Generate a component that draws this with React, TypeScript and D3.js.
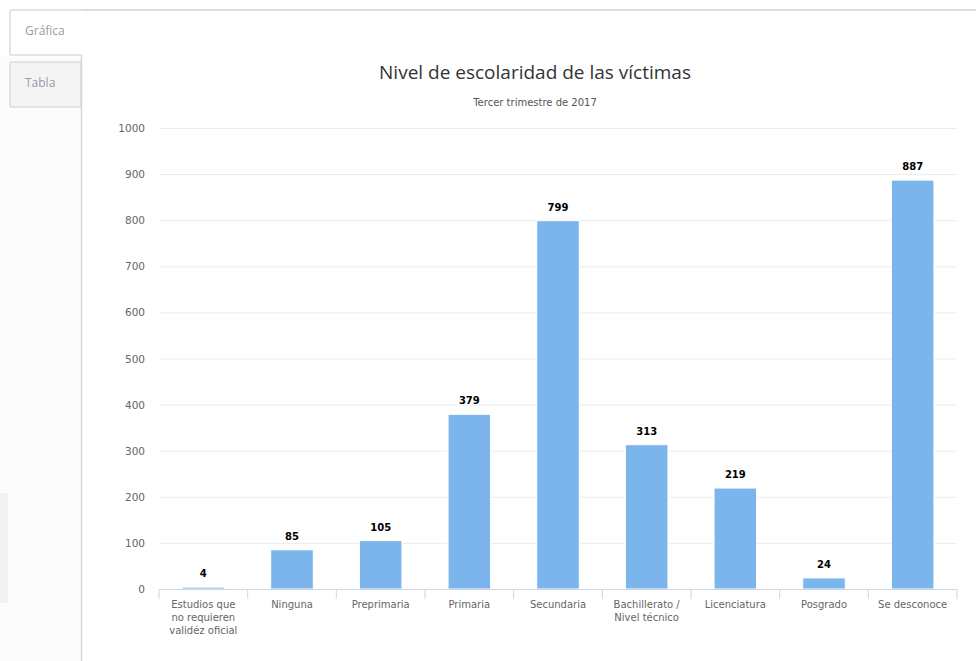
import React from "react";
import * as d3 from "d3";

const categories: string[][] = [
  ["Estudios que", "no requieren", "validéz oficial"],
  ["Ninguna"],
  ["Preprimaria"],
  ["Primaria"],
  ["Secundaria"],
  ["Bachillerato /", "Nivel técnico"],
  ["Licenciatura"],
  ["Posgrado"],
  ["Se desconoce"],
];
const values: number[] = [4, 85, 105, 379, 799, 313, 219, 24, 887];
const yTicks: number[] = [0, 100, 200, 300, 400, 500, 600, 700, 800, 900, 1000];

const W = 976;
const H = 661;
const plotLeft = 159;
const plotRight = 957;
const plotTop = 128;
const plotBottom = 589;
const font = "'Open Sans', 'DejaVu Sans', sans-serif";
const smallFont = "'DejaVu Sans', Verdana, sans-serif";

export default function App() {
  const x = d3
    .scaleBand<number>()
    .domain(values.map((_, i) => i))
    .range([plotLeft, plotRight])
    .paddingInner(0)
    .paddingOuter(0);
  const y = d3.scaleLinear().domain([0, 1000]).range([plotBottom, plotTop]);
  const step = x.step();
  const barW = step * 0.6 * 0.8;

  const bounds = d3.range(values.length + 1).map((i) => plotLeft + i * step);

  return (
    <div style={{ position: "absolute", left: 0, top: 0 }}>
      <svg width={W} height={H} style={{ display: "block", background: "#fff" }}>
        {/* tabs */}
        <rect x={0} y={55} width={81} height={606} fill="#fcfcfc" />
        <rect x={0} y={493} width={8} height={110} fill="#f2f2f2" />
        <line x1={82} y1={10} x2={W} y2={10} stroke="#dcdcdc" strokeWidth={2} />
        <path d="M82,10 L12,10 Q10,10 10,12 L10,53 Q10,55 12,55 L82,55" fill="#fff" stroke="#dcdcdc" strokeWidth={1.5} />
        <path d="M81,62 L12,62 Q10,62 10,64 L10,105 Q10,107 12,107 L81,107 Z" fill="#f4f4f4" stroke="#dcdcdc" strokeWidth={1.5} />
        <line x1={81.5} y1={55} x2={81.5} y2={H} stroke="#d6d6d6" strokeWidth={1.5} />
        <text x={25} y={35} fontFamily={font} fontSize={12} fill="#9a9aa8">Gráfica</text>
        <text x={25} y={87} fontFamily={font} fontSize={12} fill="#9a9aa8">Tabla</text>

        {/* titles */}
        <text x={535} y={79} textAnchor="middle" fontFamily={font} fontSize={19} fill="#333333">
          Nivel de escolaridad de las víctimas
        </text>
        <text x={535} y={106} textAnchor="middle" fontFamily={smallFont} fontSize={10} fill="#555555">
          Tercer trimestre de 2017
        </text>

        {/* grid */}
        {yTicks.map((t) => (
          <g key={t}>
            {t > 0 && (
              <line x1={plotLeft} x2={plotRight} y1={y(t) + 0.5} y2={y(t) + 0.5} stroke="#ececec" strokeWidth={1} />
            )}
            <text x={145} y={y(t) + 4} textAnchor="end" fontFamily={smallFont} fontSize={10.5} fill="#666666">
              {t}
            </text>
          </g>
        ))}

        {/* bars */}
        {values.map((v, i) => {
          const cx = (x(i) as number) + step / 2;
          return (
            <g key={i}>
              <rect
                x={cx - barW / 2}
                y={y(v)}
                width={barW}
                height={plotBottom - y(v)}
                fill="#7cb5ec"
                stroke="#ffffff"
                strokeWidth={1}
              />
              <text
                x={cx}
                y={y(v) - 10}
                textAnchor="middle"
                fontFamily={smallFont}
                fontSize={10}
                fontWeight={700}
                fill="#000000"
                stroke="#ffffff"
                strokeWidth={2}
                paintOrder="stroke"
              >
                {v}
              </text>
            </g>
          );
        })}

        {/* x axis */}
        <line x1={plotLeft} x2={plotRight} y1={plotBottom + 0.5} y2={plotBottom + 0.5} stroke="#ccd6eb" strokeWidth={1} />
        {bounds.map((b, i) => (
          <line key={i} x1={b} x2={b} y1={plotBottom} y2={plotBottom + 10} stroke="#ccd6eb" strokeWidth={1} />
        ))}
        {categories.map((lines, i) => {
          const cx = (x(i) as number) + step / 2;
          return (
            <text key={i} x={cx} y={608} textAnchor="middle" fontFamily={smallFont} fontSize={10} fill="#666666">
              {lines.map((l, j) => (
                <tspan key={j} x={cx} dy={j === 0 ? 0 : 13}>
                  {l}
                </tspan>
              ))}
            </text>
          );
        })}
      </svg>
    </div>
  );
}
